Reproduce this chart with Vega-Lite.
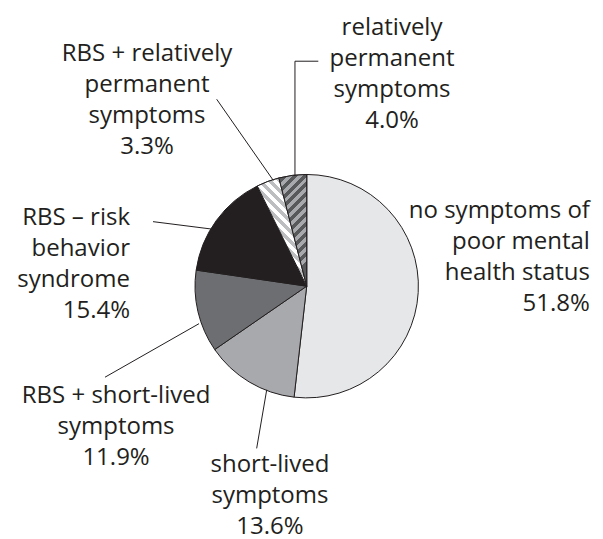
{
  "$schema": "https://vega.github.io/schema/vega-lite/v6.json",
  "width": 603,
  "height": 539,
  "autosize": {"type": "fit", "contains": "padding"},
  "padding": 0,
  "background": "#ffffff",
  "config": {"view": {"stroke": null}},
  "data": {
    "values": [
      {"order": 1, "category": "no symptoms", "share": 51.8, "label": "no symptoms of\npoor mental\nhealth status\n51.8%"},
      {"order": 2, "category": "short-lived", "share": 13.6, "label": "short-lived\nsymptoms\n13.6%"},
      {"order": 3, "category": "RBS + short-lived", "share": 11.9, "label": "RBS + short-lived\nsymptoms\n11.9%"},
      {"order": 4, "category": "RBS", "share": 15.4, "label": "RBS – risk\nbehavior\nsyndrome\n15.4%"},
      {"order": 5, "category": "RBS + relatively permanent", "share": 3.3, "label": "RBS + relatively\npermanent\nsymptoms\n3.3%"},
      {"order": 6, "category": "relatively permanent", "share": 4.0, "label": "relatively\npermanent\nsymptoms\n4.0%"}
    ]
  },
  "layer": [
    {
      "mark": {"type": "arc", "radius": 111.7, "stroke": "#231f20", "strokeWidth": 1},
      "encoding": {
        "x": {"datum": 0, "type": "quantitative", "scale": {"domain": [-274.6, 265.3], "nice": false, "zero": false}, "axis": null},
        "y": {"datum": 0, "type": "quantitative", "scale": {"domain": [-224.4, 258.1], "nice": false, "zero": false}, "axis": null},
        "theta": {"field": "share", "type": "quantitative", "stack": true},
        "order": {"field": "order", "type": "quantitative"},
        "fill": {
          "field": "category", "type": "nominal", "legend": null,
          "scale": {
            "domain": ["no symptoms", "short-lived", "RBS + short-lived", "RBS", "RBS + relatively permanent", "relatively permanent"],
            "range": ["#e6e7e8", "#a7a9ac", "#6d6e71", "#231f20", "#ffffff", "#a7a9ac"]
          }
        }
      }
    },
    {
      "mark": {
        "type": "arc", "radius": 111.7, "stroke": "#231f20", "strokeWidth": 1,
        "fill": {
          "gradient": "linear", "x1": 0.457, "y1": 0, "x2": 0, "y2": 1,
          "stops": [
            {"offset": 0, "color": "#bcbec0"}, {"offset": 0.0385, "color": "#bcbec0"},
            {"offset": 0.0385, "color": "#ffffff"}, {"offset": 0.0769, "color": "#ffffff"},
            {"offset": 0.0769, "color": "#bcbec0"}, {"offset": 0.1154, "color": "#bcbec0"},
            {"offset": 0.1154, "color": "#ffffff"}, {"offset": 0.1538, "color": "#ffffff"},
            {"offset": 0.1538, "color": "#bcbec0"}, {"offset": 0.1923, "color": "#bcbec0"},
            {"offset": 0.1923, "color": "#ffffff"}, {"offset": 0.2308, "color": "#ffffff"},
            {"offset": 0.2308, "color": "#bcbec0"}, {"offset": 0.2692, "color": "#bcbec0"},
            {"offset": 0.2692, "color": "#ffffff"}, {"offset": 0.3077, "color": "#ffffff"},
            {"offset": 0.3077, "color": "#bcbec0"}, {"offset": 0.3462, "color": "#bcbec0"},
            {"offset": 0.3462, "color": "#ffffff"}, {"offset": 0.3846, "color": "#ffffff"},
            {"offset": 0.3846, "color": "#bcbec0"}, {"offset": 0.4231, "color": "#bcbec0"},
            {"offset": 0.4231, "color": "#ffffff"}, {"offset": 0.4615, "color": "#ffffff"},
            {"offset": 0.4615, "color": "#bcbec0"}, {"offset": 0.5, "color": "#bcbec0"},
            {"offset": 0.5, "color": "#ffffff"}, {"offset": 0.5385, "color": "#ffffff"},
            {"offset": 0.5385, "color": "#bcbec0"}, {"offset": 0.5769, "color": "#bcbec0"},
            {"offset": 0.5769, "color": "#ffffff"}, {"offset": 0.6154, "color": "#ffffff"},
            {"offset": 0.6154, "color": "#bcbec0"}, {"offset": 0.6538, "color": "#bcbec0"},
            {"offset": 0.6538, "color": "#ffffff"}, {"offset": 0.6923, "color": "#ffffff"},
            {"offset": 0.6923, "color": "#bcbec0"}, {"offset": 0.7308, "color": "#bcbec0"},
            {"offset": 0.7308, "color": "#ffffff"}, {"offset": 0.7692, "color": "#ffffff"},
            {"offset": 0.7692, "color": "#bcbec0"}, {"offset": 0.8077, "color": "#bcbec0"},
            {"offset": 0.8077, "color": "#ffffff"}, {"offset": 0.8462, "color": "#ffffff"},
            {"offset": 0.8462, "color": "#bcbec0"}, {"offset": 0.8846, "color": "#bcbec0"},
            {"offset": 0.8846, "color": "#ffffff"}, {"offset": 0.9231, "color": "#ffffff"},
            {"offset": 0.9231, "color": "#bcbec0"}, {"offset": 0.9615, "color": "#bcbec0"},
            {"offset": 0.9615, "color": "#ffffff"}, {"offset": 1, "color": "#ffffff"}
          ]
        }
      },
      "encoding": {
        "x": {"datum": 0, "type": "quantitative"},
        "y": {"datum": 0, "type": "quantitative"},
        "theta": {"field": "share", "type": "quantitative", "stack": true},
        "order": {"field": "order", "type": "quantitative"},
        "opacity": {"condition": {"test": "datum.category === 'RBS + relatively permanent'", "value": 1}, "value": 0}
      }
    },
    {
      "mark": {
        "type": "arc", "radius": 111.7, "stroke": "#231f20", "strokeWidth": 1,
        "fill": {
          "gradient": "linear", "x1": 0, "y1": 0, "x2": 0.249, "y2": 1,
          "stops": [
            {"offset": 0, "color": "#a7a9ac"}, {"offset": 0.0417, "color": "#a7a9ac"},
            {"offset": 0.0417, "color": "#58595b"}, {"offset": 0.0833, "color": "#58595b"},
            {"offset": 0.0833, "color": "#a7a9ac"}, {"offset": 0.125, "color": "#a7a9ac"},
            {"offset": 0.125, "color": "#58595b"}, {"offset": 0.1667, "color": "#58595b"},
            {"offset": 0.1667, "color": "#a7a9ac"}, {"offset": 0.2083, "color": "#a7a9ac"},
            {"offset": 0.2083, "color": "#58595b"}, {"offset": 0.25, "color": "#58595b"},
            {"offset": 0.25, "color": "#a7a9ac"}, {"offset": 0.2917, "color": "#a7a9ac"},
            {"offset": 0.2917, "color": "#58595b"}, {"offset": 0.3333, "color": "#58595b"},
            {"offset": 0.3333, "color": "#a7a9ac"}, {"offset": 0.375, "color": "#a7a9ac"},
            {"offset": 0.375, "color": "#58595b"}, {"offset": 0.4167, "color": "#58595b"},
            {"offset": 0.4167, "color": "#a7a9ac"}, {"offset": 0.4583, "color": "#a7a9ac"},
            {"offset": 0.4583, "color": "#58595b"}, {"offset": 0.5, "color": "#58595b"},
            {"offset": 0.5, "color": "#a7a9ac"}, {"offset": 0.5417, "color": "#a7a9ac"},
            {"offset": 0.5417, "color": "#58595b"}, {"offset": 0.5833, "color": "#58595b"},
            {"offset": 0.5833, "color": "#a7a9ac"}, {"offset": 0.625, "color": "#a7a9ac"},
            {"offset": 0.625, "color": "#58595b"}, {"offset": 0.6667, "color": "#58595b"},
            {"offset": 0.6667, "color": "#a7a9ac"}, {"offset": 0.7083, "color": "#a7a9ac"},
            {"offset": 0.7083, "color": "#58595b"}, {"offset": 0.75, "color": "#58595b"},
            {"offset": 0.75, "color": "#a7a9ac"}, {"offset": 0.7917, "color": "#a7a9ac"},
            {"offset": 0.7917, "color": "#58595b"}, {"offset": 0.8333, "color": "#58595b"},
            {"offset": 0.8333, "color": "#a7a9ac"}, {"offset": 0.875, "color": "#a7a9ac"},
            {"offset": 0.875, "color": "#58595b"}, {"offset": 0.9167, "color": "#58595b"},
            {"offset": 0.9167, "color": "#a7a9ac"}, {"offset": 0.9583, "color": "#a7a9ac"},
            {"offset": 0.9583, "color": "#58595b"}, {"offset": 1, "color": "#58595b"}
          ]
        }
      },
      "encoding": {
        "x": {"datum": 0, "type": "quantitative"},
        "y": {"datum": 0, "type": "quantitative"},
        "theta": {"field": "share", "type": "quantitative", "stack": true},
        "order": {"field": "order", "type": "quantitative"},
        "opacity": {"condition": {"test": "datum.category === 'relatively permanent'", "value": 1}, "value": 0}
      }
    },
    {
      "transform": [{"filter": "datum.category === 'short-lived'"}],
      "mark": {"type": "rule", "stroke": "#231f20", "strokeWidth": 1},
      "encoding": {
        "x": {"datum": -35.8, "type": "quantitative"}, "y": {"datum": -93.5, "type": "quantitative"},
        "x2": {"datum": -44.8}, "y2": {"datum": -146.3}
      }
    },
    {
      "transform": [{"filter": "datum.category === 'RBS + short-lived'"}],
      "mark": {"type": "rule", "stroke": "#231f20", "strokeWidth": 1},
      "encoding": {
        "x": {"datum": -96.4, "type": "quantitative"}, "y": {"datum": -33.8, "type": "quantitative"},
        "x2": {"datum": -180.6}, "y2": {"datum": -82.1}
      }
    },
    {
      "transform": [{"filter": "datum.category === 'RBS'"}],
      "mark": {"type": "rule", "stroke": "#231f20", "strokeWidth": 1},
      "encoding": {
        "x": {"datum": -85.7, "type": "quantitative"}, "y": {"datum": 51.6, "type": "quantitative"},
        "x2": {"datum": -137.6}, "y2": {"datum": 58.2}
      }
    },
    {
      "transform": [{"filter": "datum.category === 'RBS + relatively permanent'"}],
      "mark": {"type": "rule", "stroke": "#231f20", "strokeWidth": 1},
      "encoding": {
        "x": {"datum": -29.9, "type": "quantitative"}, "y": {"datum": 95.4, "type": "quantitative"},
        "x2": {"datum": -80.6}, "y2": {"datum": 168.6}
      }
    },
    {
      "transform": [{"filter": "datum.category === 'relatively permanent'"}],
      "mark": {"type": "rule", "stroke": "#231f20", "strokeWidth": 1},
      "encoding": {
        "x": {"datum": -10.5, "type": "quantitative"}, "y": {"datum": 99.5, "type": "quantitative"},
        "x2": {"datum": -10.5}, "y2": {"datum": 202.9}
      }
    },
    {
      "transform": [{"filter": "datum.category === 'relatively permanent'"}],
      "mark": {"type": "rule", "stroke": "#231f20", "strokeWidth": 1},
      "encoding": {
        "x": {"datum": -10.5, "type": "quantitative"}, "y": {"datum": 202.9, "type": "quantitative"},
        "x2": {"datum": 10.4}, "y2": {"datum": 202.9}
      }
    },
    {
      "transform": [{"filter": "datum.category === 'no symptoms'"}],
      "mark": {"type": "text", "align": "right", "baseline": "alphabetic", "font": "Open Sans", "fontSize": 24, "lineHeight": 31, "lineBreak": "\n", "color": "#231f20"},
      "encoding": {
        "x": {"datum": 253.6, "type": "quantitative"}, "y": {"datum": 61.1, "type": "quantitative"},
        "text": {"field": "label", "type": "nominal"}
      }
    },
    {
      "transform": [{"filter": "datum.category === 'short-lived'"}],
      "mark": {"type": "text", "align": "center", "baseline": "alphabetic", "font": "Open Sans", "fontSize": 24, "lineHeight": 31, "lineBreak": "\n", "color": "#231f20"},
      "encoding": {
        "x": {"datum": -32.9, "type": "quantitative"}, "y": {"datum": -168.0, "type": "quantitative"},
        "text": {"field": "label", "type": "nominal"}
      }
    },
    {
      "transform": [{"filter": "datum.category === 'RBS + short-lived'"}],
      "mark": {"type": "text", "align": "center", "baseline": "alphabetic", "font": "Open Sans", "fontSize": 24, "lineHeight": 31, "lineBreak": "\n", "color": "#231f20"},
      "encoding": {
        "x": {"datum": -170.7, "type": "quantitative"}, "y": {"datum": -105.4, "type": "quantitative"},
        "text": {"field": "label", "type": "nominal"}
      }
    },
    {
      "transform": [{"filter": "datum.category === 'RBS'"}],
      "mark": {"type": "text", "align": "right", "baseline": "alphabetic", "font": "Open Sans", "fontSize": 24, "lineHeight": 31, "lineBreak": "\n", "color": "#231f20"},
      "encoding": {
        "x": {"datum": -158.2, "type": "quantitative"}, "y": {"datum": 54.9, "type": "quantitative"},
        "text": {"field": "label", "type": "nominal"}
      }
    },
    {
      "transform": [{"filter": "datum.category === 'RBS + relatively permanent'"}],
      "mark": {"type": "text", "align": "center", "baseline": "alphabetic", "font": "Open Sans", "fontSize": 24, "lineHeight": 31, "lineBreak": "\n", "color": "#231f20"},
      "encoding": {
        "x": {"datum": -143.0, "type": "quantitative"}, "y": {"datum": 203.5, "type": "quantitative"},
        "text": {"field": "label", "type": "nominal"}
      }
    },
    {
      "transform": [{"filter": "datum.category === 'relatively permanent'"}],
      "mark": {"type": "text", "align": "center", "baseline": "alphabetic", "font": "Open Sans", "fontSize": 24, "lineHeight": 31, "lineBreak": "\n", "color": "#231f20"},
      "encoding": {
        "x": {"datum": 76.4, "type": "quantitative"}, "y": {"datum": 226.8, "type": "quantitative"},
        "text": {"field": "label", "type": "nominal"}
      }
    }
  ]
}
